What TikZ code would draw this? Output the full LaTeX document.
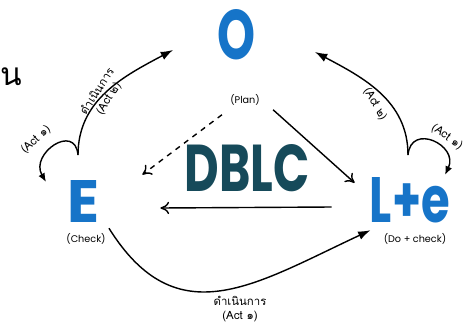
\documentclass[tikz,border=0pt]{standalone}
\usepackage{fontspec}
\usepackage{graphicx}
\setmainfont{Poppins}
\newfontfamily\thaifont[Script=Thai]{Loma}
\usetikzlibrary{arrows.meta}
\definecolor{letterblue}{RGB}{22,116,200}
\definecolor{dblcteal}{RGB}{22,74,90}
\tikzset{
  bigletter/.style={inner sep=0pt,text=letterblue,font=\bfseries},
  smalltag/.style={inner sep=0pt,font=\fontsize{5.5}{6}\selectfont},
  thaitag/.style={inner sep=0pt,font=\thaifont\fontsize{6.5}{7.5}\selectfont,align=center},
  opentip/.style={-{To[length=5pt,width=7pt]}},
}
\begin{document}
\begin{tikzpicture}[>={Latex[length=7pt,width=5pt]}]
\useasboundingbox (0,0) rectangle (9.46,6.54);

% Draw the letters
\node[bigletter] (O) at (4.74,5.84) {\resizebox{0.76cm}{1.0cm}{O}};
\node[bigletter] (E) at (1.68,2.52) {\resizebox{0.64cm}{0.84cm}{E}};
\node[bigletter] (Le) at (8.2,2.54) {\resizebox{1.6cm}{0.9cm}{L+e}};
\node[inner sep=0pt,text=dblcteal,font=\bfseries] (dblc) at (4.94,3.18) {\resizebox{2.5cm}{0.94cm}{DBLC}};

%% Add the tags
\node[smalltag] (plan) at (4.9,4.54) {(Plan)};
\node[smalltag] (check) at (1.72,1.76) {(Check)};
\node[smalltag] (docheck) at (8.3,1.76) {(Do + check)};
\node[inner sep=0pt,font=\thaifont\fontsize{18}{20}\selectfont] (edge) at (0.22,5.0) {น};

%% Draw the inner arrows
\draw[thick,dashed,opentip] ([shift={(-0.16,-0.18)}]plan.south west) -- ([shift={(0.84,0.1)}]E.north east);
\draw[thick,opentip] ([shift={(0.26,-0.08)}]plan.south east) -- ([shift={(-0.3,-0.12)}]Le.north west);
\draw[thick,opentip] ([shift={(-0.76,-0.14)}]Le.west) -- ([shift={(1.2,-0.14)}]E.east);

%% Draw the outer arcs
\coordinate (Etop) at (1.56,3.44);
\coordinate (Letop) at (8.16,3.44);
\coordinate (Eloop) at (0.92,2.9);
\coordinate (Leloop) at (8.9,3.04);
\coordinate (Oleft) at (3.46,5.54);
\coordinate (Oright) at (6.3,5.5);
\draw[thick,->] ([shift={(0.06,0.1)}]check.north east) to[out=-58,in=205,looseness=1.25] ([shift={(-0.26,0.06)}]docheck.north west);
\draw[thick,->] (Etop) to[out=90,in=208] (Oleft);
\draw[thick,->] (Letop) to[out=90,in=-28] (Oright);
\draw[thick,-{Latex[length=5pt,width=4pt]}] (Etop) to[out=95,in=120,looseness=2] (Eloop);
\draw[thick,-{Latex[length=5pt,width=4pt]}] (Letop) to[out=85,in=65,looseness=2] (Leloop);

%% Add the arc labels
\node[thaitag] (act1) at (4.8,0.36) {ดำเนินการ\\(Act ๑)};
\node[thaitag,rotate=57] (act2) at (2.06,4.64) {ดำเนินการ\\(Act ๒)};
\node[thaitag,rotate=-60] (act3) at (7.5,4.46) {(Act ๒)};
\node[thaitag,rotate=42] (act4) at (0.72,3.74) {(Act ๑)};
\node[thaitag,rotate=-35] (act5) at (8.94,3.8) {(Act ๑)};

\end{tikzpicture}
\end{document}
